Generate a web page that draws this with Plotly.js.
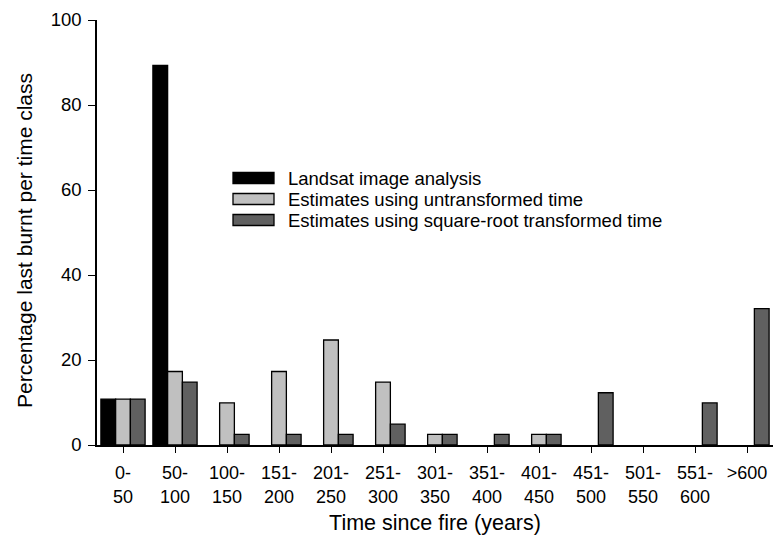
<!DOCTYPE html>
<html><head><meta charset="utf-8">
<script src="https://cdn.plot.ly/plotly-3.0.1.min.js"></script>
<style>body{margin:0;background:#fff}#c{width:782px;height:536px}</style>
</head><body><div id="c"></div>
<script>
const categories = ["0-<br>50","50-<br>100","100-<br>150","151-<br>200","201-<br>250","251-<br>300","301-<br>350","351-<br>400","401-<br>450","451-<br>500","501-<br>550","551-<br>600",">600<br> "];
const landsat = [10.8, 89.3, 0, 0, 0, 0, 0, 0, 0, 0, 0, 0, 0];
const untransformed = [10.8, 17.3, 9.9, 17.3, 24.7, 14.8, 2.5, 0, 2.5, 0, 0, 0, 0];
const sqrtTransformed = [10.8, 14.8, 2.5, 2.5, 2.5, 4.9, 2.5, 2.5, 2.5, 12.3, 0, 9.9, 32.1];
const seriesNames = ["Landsat image analysis","Estimates using untransformed time","Estimates using square-root transformed time"];
const colors = ["#000000","#c0c0c0","#606060"];
const xs = categories.map((c,i)=>i);
const FAM = 'Liberation Sans, Arial, sans-serif';
const mk = (y,k)=>({type:'bar', x:xs, y:y, name:seriesNames[k], showlegend:false,
  marker:{color:colors[k], line:{color:'#000', width:y.map(v => v > 0 ? 1.3 : 0)}}});
const data = [mk(landsat,0), mk(untransformed,1), mk(sqrtTransformed,2)];

// legend drawn as layout decoration (paper coordinates)
const W = 782, H = 536, ML = 97, MR = 9, MT = 20, MB = 91;
const px = x => (x - ML) / (W - ML - MR);
const py = y => 1 - (y - MT) / (H - MT - MB);
const rowY = [178, 199, 220];
const shapes = [], annotations = [];
seriesNames.forEach((n,k)=>{
  shapes.push({type:'rect', xref:'paper', yref:'paper',
    x0:px(233), x1:px(274), y0:py(rowY[k]+5.5), y1:py(rowY[k]-5.5),
    fillcolor:colors[k], line:{color:'#000', width:1.3}});
  annotations.push({xref:'paper', yref:'paper', x:px(286), y:py(rowY[k]),
    xanchor:'left', yanchor:'middle', showarrow:false, text:n,
    font:{family:FAM, size:18.5, color:'#000'}});
});
annotations.push({xref:'paper', yref:'paper', x:px(24), y:py(241),
  xanchor:'center', yanchor:'middle', showarrow:false, textangle:-90,
  text:'Percentage last burnt per time class', font:{family:FAM, size:21, color:'#000'}});

const layout = {
  width:W, height:H,
  margin:{l:ML, r:MR, t:MT, b:MB},
  paper_bgcolor:'#fff', plot_bgcolor:'#fff',
  font:{family:FAM, size:16, color:'#000'},
  barmode:'group', bargap:0.15, bargroupgap:0,
  showlegend:false,
  shapes:shapes, annotations:annotations,
  xaxis:{range:[-0.5,12.5], tickmode:'array', tickvals:xs, ticktext:categories,
    tickfont:{family:FAM, size:18}, ticklabelstandoff:5,
    showline:true, linecolor:'#000', linewidth:1.5, ticks:'outside', ticklen:6, tickcolor:'#000',
    showgrid:false, zeroline:false, fixedrange:true,
    title:{text:'Time since fire (years)', font:{family:FAM, size:21.5}, standoff:9}},
  yaxis:{range:[0,100], dtick:20, showline:true, linecolor:'#000', linewidth:1.8,
    tickfont:{family:FAM, size:18.5}, ticklabelstandoff:3,
    ticks:'outside', ticklen:7, tickcolor:'#000', showgrid:false, zeroline:false}
};
Plotly.newPlot('c', data, layout, {displayModeBar:false, staticPlot:true});
</script></body></html>
